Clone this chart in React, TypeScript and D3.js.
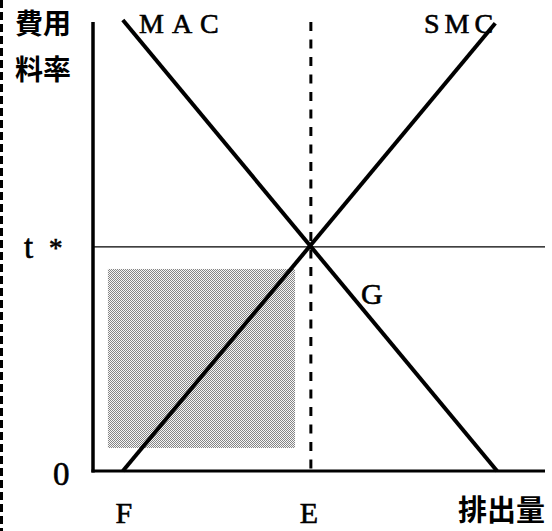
import React from "react";
import * as d3 from "d3";

const W = 552;
const H = 531;

// Data (quantity on x, cost/rate on y), domain 0..100 each
const macPoints: [number, number][] = [
  [6.6, 100],
  [89.4, 0],
];
const smcPoints: [number, number][] = [
  [6.6, 0],
  [89.0, 99.3],
];
const tStar = 49.7;
const eQuantity = 48.2;
const shadedBox = { x0: 3.3, x1: 44.7, y0: 5.1, y1: 44.8 };
const xTickLabels = [
  { label: "F", value: 6.6 },
  { label: "E", value: 48.2 },
];

export default function App() {
  const x = d3.scaleLinear().domain([0, 100]).range([93, 545]);
  const y = d3.scaleLinear().domain([0, 100]).range([471, 20]);
  const line = d3
    .line<[number, number]>()
    .x((d) => x(d[0]))
    .y((d) => y(d[1]));

  const serif = "'Liberation Serif', 'Times New Roman', serif";
  const cjk = "'Noto Sans CJK JP', sans-serif";
  const thick = { stroke: "#000", strokeWidth: 0.6 };

  return (
    <svg
      width={W}
      height={H}
      style={{ position: "absolute", left: 0, top: 0, background: "#fff" }}
    >
      <defs>
        <pattern id="dots" width={2} height={2} patternUnits="userSpaceOnUse">
          <rect width={2} height={2} fill="#f6f6f6" />
          <rect x={0} y={0} width={1} height={1} fill="#858585" />
          <rect x={1} y={1} width={1} height={1} fill="#858585" />
        </pattern>
      </defs>
      <rect width={W} height={H} fill="#fff" />

      {/* left dashed edge */}
      <line
        x1={1.5}
        x2={1.5}
        y1={0}
        y2={H}
        stroke="#000"
        strokeWidth={3}
        strokeDasharray="8 4"
      />

      {/* shaded area */}
      <rect
        x={x(shadedBox.x0)}
        y={y(shadedBox.y1)}
        width={x(shadedBox.x1) - x(shadedBox.x0)}
        height={y(shadedBox.y0) - y(shadedBox.y1)}
        fill="url(#dots)"
      />

      {/* t* line */}
      <line
        x1={x(0)}
        x2={x(100)}
        y1={y(tStar)}
        y2={y(tStar)}
        stroke="#000"
        strokeWidth={1.2}
      />

      {/* E dashed vertical */}
      <line
        x1={x(eQuantity)}
        x2={x(eQuantity)}
        y1={y(100) + 2}
        y2={y(0)}
        stroke="#000"
        strokeWidth={3}
        strokeDasharray="9 8.5"
      />

      {/* curves */}
      <path d={line(macPoints) || ""} fill="none" stroke="#000" strokeWidth={4} />
      <path d={line(smcPoints) || ""} fill="none" stroke="#000" strokeWidth={4} />

      {/* axes */}
      <line x1={x(0)} x2={x(0)} y1={y(100) + 2} y2={y(0) + 1.5} stroke="#000" strokeWidth={3.5} />
      <line x1={x(0) - 1.5} x2={x(100)} y1={y(0)} y2={y(0)} stroke="#000" strokeWidth={3} />

      {/* labels */}
      <text x={15} y={34} fontFamily={cjk} fontWeight={700} fontSize={28}>
        費用
      </text>
      <text x={15} y={80} fontFamily={cjk} fontWeight={700} fontSize={28}>
        料率
      </text>
      <text x={139} y={33} fontFamily={serif} fontSize={28} letterSpacing={8} {...thick}>
        MAC
      </text>
      <text x={424} y={33} fontFamily={serif} fontSize={28} letterSpacing={5} {...thick}>
        SMC
      </text>
      <text x={24} y={258} fontFamily={serif} fontSize={33} {...thick}>
        t
      </text>
      <text x={49} y={257} fontFamily={serif} fontSize={27} {...thick}>
        *
      </text>
      <text x={53} y={485} fontFamily={serif} fontSize={33} {...thick}>
        0
      </text>
      <text x={361} y={304} fontFamily={serif} fontSize={30} {...thick}>
        G
      </text>
      {xTickLabels.map((t) => (
        <text
          key={t.label}
          x={x(t.value) + (t.label === "F" ? 1 : -2)}
          y={523}
          textAnchor="middle"
          fontFamily={serif}
          fontSize={30}
          {...thick}
        >
          {t.label}
        </text>
      ))}
      <text x={545} y={521} textAnchor="end" fontFamily={cjk} fontWeight={700} fontSize={29}>
        排出量
      </text>
    </svg>
  );
}
